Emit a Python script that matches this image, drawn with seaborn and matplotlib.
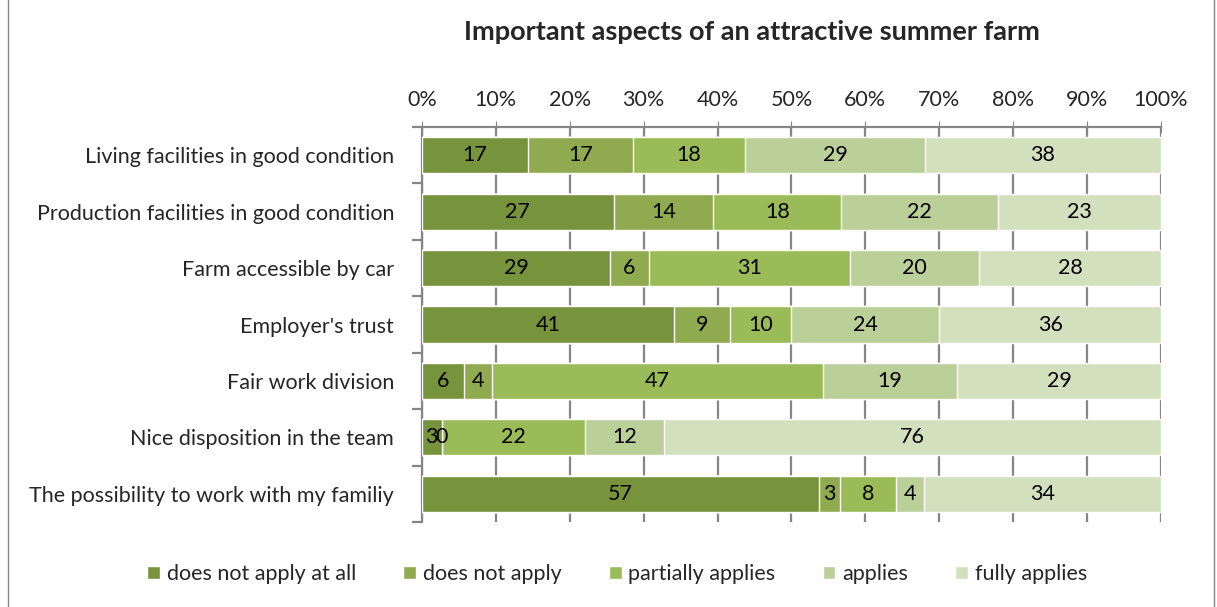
import matplotlib
matplotlib.use("Agg")
import matplotlib.pyplot as plt
import seaborn as sns
import numpy as np
import pandas as pd
from matplotlib.patches import Rectangle
from matplotlib.ticker import FixedLocator, PercentFormatter

categories = [
    "Living facilities in good condition",
    "Production facilities in good condition",
    "Farm accessible by car",
    "Employer's trust",
    "Fair work division",
    "Nice disposition in the team",
    "The possibility to work with my familiy",
]
responses = ["does not apply at all", "does not apply", "partially applies", "applies", "fully applies"]
not_at_all = [17, 27, 29, 41, 6, 3, 57]
not_apply = [17, 14, 6, 9, 4, 0, 3]
partially = [18, 18, 31, 10, 47, 22, 8]
applies = [29, 22, 20, 24, 19, 12, 4]
fully = [38, 23, 28, 36, 29, 76, 34]
colors = ["#77933C", "#8FAA4F", "#9BBB59", "#BBCF99", "#D3E0BE"]

counts = np.array([not_at_all, not_apply, partially, applies, fully], dtype=float)
pct = counts / counts.sum(axis=0) * 100
cum = np.cumsum(pct, axis=0)

sns.set_style("white")
plt.rcParams["font.family"] = ["Lato", "DejaVu Sans"]

fig = plt.figure(figsize=(12.17, 6.07), dpi=100)
ax = fig.add_axes([0.3467, 0.14, 0.954 - 0.3467, 0.7908 - 0.14])

# draw cumulative bars back to front so they stack
for i in range(len(responses) - 1, -1, -1):
    df = pd.DataFrame({"cat": categories, "val": cum[i]})
    sns.barplot(data=df, x="val", y="cat", color=colors[i], width=0.64,
                saturation=1, ax=ax, label=responses[i], zorder=3)

# segment labels
for i in range(len(responses)):
    start = cum[i] - pct[i]
    for j in range(len(categories)):
        ax.text(start[j] + pct[i][j] / 2, j, f"{int(counts[i][j])}",
                ha="center", va="center", fontsize=15.5, color="black", zorder=5)

ax.set_xlim(0, 100)
ax.set_ylim(len(categories) - 0.5, -0.5)
ax.xaxis.tick_top()
ax.set_xticks(np.arange(0, 101, 10))
ax.xaxis.set_major_formatter(PercentFormatter(decimals=0))
ax.tick_params(axis="x", direction="inout", length=8, color="#868686",
               labelsize=15.5, pad=8, bottom=False, top=True)
ax.grid(axis="x", color="#868686", linewidth=1.6, zorder=0)
ax.set_axisbelow(True)
ax.set_xlabel("")
ax.set_ylabel("")

ax.tick_params(axis="y", length=0, labelsize=15.5, pad=20)
ax.yaxis.set_minor_locator(FixedLocator(np.arange(-0.5, len(categories), 1)))
ax.tick_params(axis="y", which="minor", left=True, length=7, color="#868686", width=1.6)

for s in ["right", "bottom"]:
    ax.spines[s].set_visible(False)
for s in ["left", "top"]:
    ax.spines[s].set_color("#868686")
    ax.spines[s].set_linewidth(1.6)

handles, labels = ax.get_legend_handles_labels()
order = [labels.index(r) for r in responses]
if ax.legend_:
    ax.legend_.remove()
fig.legend([handles[k] for k in order], responses, loc="center", ncol=5,
           bbox_to_anchor=(0.507, 0.054), frameon=False, fontsize=15.5,
           handlelength=0.6, handleheight=0.6, handletextpad=0.3, columnspacing=2.2)

fig.text(0.618, 0.948, "Important aspects of an attractive summer farm",
         ha="center", va="center", fontsize=19.5, fontweight="bold")

fig.add_artist(Rectangle((8 / 1217, -0.01), (1214 - 8) / 1217, 1.02,
                         transform=fig.transFigure, fill=False,
                         edgecolor="#868686", linewidth=1))

fig.savefig("out.png", dpi=100)
